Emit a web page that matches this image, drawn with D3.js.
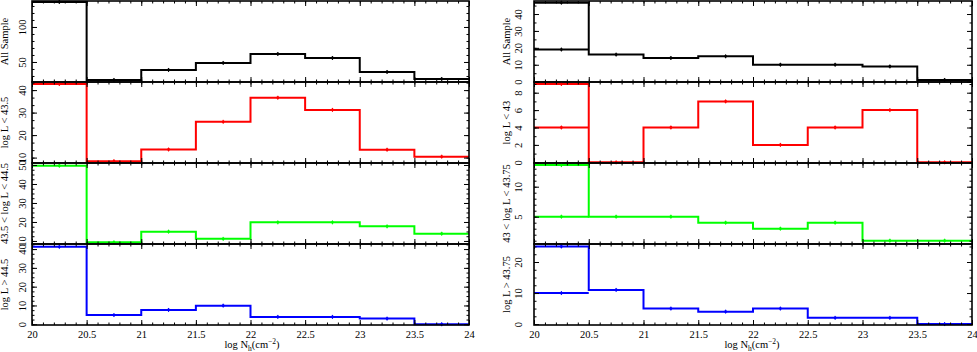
<!DOCTYPE html>
<html>
<head>
<meta charset="utf-8">
<script src="https://cdn.jsdelivr.net/npm/d3@7"></script>
<style>
  html, body { margin: 0; padding: 0; background: #fff; }
  svg { display: block; }
  text { font-family: "Liberation Serif", "Times New Roman", serif; }
</style>
</head>
<body>
<svg id="chart" width="977" height="352"></svg>
<script>
// ---------------- DATA ----------------
const binEdges = [20, 20.5, 21, 21.5, 22, 22.5, 23, 23.5, 24];
const xTickValues = [20, 20.5, 21, 21.5, 22, 22.5, 23, 23.5, 24];
const xTickLabels = ["20", "20.5", "21", "21.5", "22", "22.5", "23", "23.5", "24"];

// Left column (luminance split at 43.5 / 44.5)
const leftTitles = ["All Sample", "log L < 43.5", "43.5 < log L < 44.5", "log L > 44.5"];
const leftAll  = [135.7, 24.3, 38.6, 48.6, 61.4, 55.7, 35.7, 25.7];
const leftLow  = [42.7, 8.4, 13.6, 25.9, 36.6, 31.2, 13.5, 10.4];
const leftMid  = [49.6, 9.3, 14.9, 11.1, 19.8, 19.8, 17.7, 13.8];
const leftHigh = [41.2, 4.9, 7.6, 9.9, 3.9, 3.9, 3.0, 0];
const leftMajorTicks = [[50, 100], [10, 20, 30, 40], [10, 20, 30, 40, 50], [0, 10, 20, 30, 40]];

// Right column (luminance split at 43 / 43.75)
const rightTitles = ["All Sample", "log L < 43", "43 < log L < 43.75", "log L > 43.75"];
const rightAll  = [46.7, 16, 14, 15, 10, 10, 9, 1];
const rightLow  = [9, 0, 4, 7, 2, 4, 6, 0];
const rightMid  = [13.6, 5, 5, 4, 3, 4, 1, 1];
const rightHigh = [25, 11, 5, 4, 5, 2, 2, 0];
const rightFirstBinLower = [19, 4, 5, 10];
const rightMajorTicks = [[0, 10, 20, 30, 40], [0, 2, 4, 6, 8], [5, 10], [0, 10, 20]];

const seriesColors = ["#000000", "#ff0000", "#00ff00", "#0000ff"];

// ---------------- LAYOUT ----------------
const svg = d3.select("#chart");
const rowEdges = [1, 82, 163, 244, 325];

const columns = [
  {
    x0: 32, x1: 469, labelOff: 6, titleX: -24, xTitleCx: 252,
    titles: leftTitles,
    series: [leftAll, leftLow, leftMid, leftHigh],
    domains: [[21.4, 137.1], [7.6, 43.6], [8.4, 51.05], [-0.4, 42.7]],
    majors: leftMajorTicks,
    minorSteps: [10, 10 / 3, 2.5, 2.5],
    lower: null
  },
  {
    x0: 534, x1: 972, labelOff: 12, titleX: -24, xTitleCx: 752,
    titles: rightTitles,
    series: [rightAll, rightLow, rightMid, rightHigh],
    domains: [[-0.2, 47.7], [-0.08, 9.23], [0.45, 13.95], [-0.3, 25.8]],
    majors: rightMajorTicks,
    minorSteps: [5, 1, 1, 2.5],
    lower: rightFirstBinLower
  }
];

function rangeTicks(dom, step) {
  const out = [];
  const start = Math.ceil(dom[0] / step - 1e-9) * step;
  for (let v = start; v <= dom[1] + 1e-9; v += step) out.push(+v.toFixed(6));
  return out;
}

const xMinor = d3.range(20, 24.0001, 0.1).map(v => +v.toFixed(2));

columns.forEach(col => {
  const x = d3.scaleLinear().domain([20, 24]).range([col.x0, col.x1]);

  col.series.forEach((vals, p) => {
    const top = rowEdges[p], bottom = rowEdges[p + 1];
    const y = d3.scaleLinear().domain(col.domains[p]).range([bottom, top]);
    const g = svg.append("g");
    const color = seriesColors[p];

    // histogram step line
    const pts = binEdges.map((e, i) => [e, i < vals.length ? vals[i] : vals[vals.length - 1]]);
    const line = d3.line().x(d => x(d[0])).y(d => y(d[1])).curve(d3.curveStepAfter);
    g.append("path").attr("d", line(pts))
      .attr("fill", "none").attr("stroke", color).attr("stroke-width", 2);

    const centers = vals.map((v, i) => [(binEdges[i] + binEdges[i + 1]) / 2, v]);

    // extra lower first-bin segment (right column)
    if (col.lower) {
      const lv = col.lower[p];
      g.append("path")
        .attr("d", d3.line().x(d => x(d[0])).y(d => y(d[1]))([[binEdges[0], lv], [binEdges[1], lv]]))
        .attr("fill", "none").attr("stroke", color).attr("stroke-width", 2);
      centers.push([(binEdges[0] + binEdges[1]) / 2, lv]);
    }

    // point markers with tiny error bars
    const mk = g.append("g");
    mk.selectAll("line").data(centers).join("line")
      .attr("x1", d => x(d[0])).attr("x2", d => x(d[0]))
      .attr("y1", d => y(d[1]) - 2).attr("y2", d => y(d[1]) + 2)
      .attr("stroke", color).attr("stroke-width", 1);
    mk.selectAll("circle").data(centers).join("circle")
      .attr("cx", d => x(d[0])).attr("cy", d => y(d[1])).attr("r", 1.4)
      .attr("fill", color);

    // axes (inward ticks on all four sides)
    const styleAxis = sel => {
      sel.select(".domain").remove();
      sel.selectAll(".tick line").attr("stroke", "#000").attr("stroke-width", 1);
    };
    const yMinor = rangeTicks(col.domains[p], col.minorSteps[p]);

    const yl = svg.append("g").attr("transform", `translate(${col.x0},0)`)
      .call(d3.axisLeft(y).tickValues(col.majors[p]).tickSize(-5).tickFormat(d3.format("~g")))
      .call(styleAxis);
    yl.selectAll(".tick text")
      .attr("x", 0).attr("y", -col.labelOff).attr("dy", 0)
      .attr("text-anchor", "middle")
      .attr("transform", "rotate(-90)")
      .attr("font-size", 10.5)
      .attr("font-family", "Liberation Serif, serif")
      .attr("fill", "#000");
    svg.append("g").attr("transform", `translate(${col.x0},0)`)
      .call(d3.axisLeft(y).tickValues(yMinor).tickSize(-2.5).tickFormat(""))
      .call(styleAxis);
    svg.append("g").attr("transform", `translate(${col.x1},0)`)
      .call(d3.axisRight(y).tickValues(col.majors[p]).tickSize(-5).tickFormat(""))
      .call(styleAxis);
    svg.append("g").attr("transform", `translate(${col.x1},0)`)
      .call(d3.axisRight(y).tickValues(yMinor).tickSize(-2.5).tickFormat(""))
      .call(styleAxis);

    svg.append("g").attr("transform", `translate(0,${top})`)
      .call(d3.axisTop(x).tickValues(xTickValues).tickSize(-5).tickFormat(""))
      .call(styleAxis);
    svg.append("g").attr("transform", `translate(0,${top})`)
      .call(d3.axisTop(x).tickValues(xMinor).tickSize(-2.5).tickFormat(""))
      .call(styleAxis);
    const xb = svg.append("g").attr("transform", `translate(0,${bottom})`)
      .call(d3.axisBottom(x).tickValues(xTickValues).tickSize(-5)
        .tickFormat((d, i) => p === 3 ? xTickLabels[i] : ""))
      .call(styleAxis);
    xb.selectAll(".tick text")
      .attr("y", 12.5).attr("dy", 0)
      .attr("font-size", 10.5)
      .attr("font-family", "Liberation Serif, serif")
      .attr("fill", "#000");
    svg.append("g").attr("transform", `translate(0,${bottom})`)
      .call(d3.axisBottom(x).tickValues(xMinor).tickSize(-2.5).tickFormat(""))
      .call(styleAxis);

    // frame
    svg.append("rect")
      .attr("x", col.x0).attr("y", top)
      .attr("width", col.x1 - col.x0).attr("height", bottom - top)
      .attr("fill", "none").attr("stroke", "#000").attr("stroke-width", 1.6);

    // y title
    svg.append("text")
      .attr("transform", `translate(${col.x0 + col.titleX},${(top + bottom) / 2}) rotate(-90)`)
      .attr("text-anchor", "middle")
      .attr("font-size", 10.5)
      .text(col.titles[p]);
  });

  // x title: log N_h (cm^-2)
  const t = svg.append("text")
    .attr("x", col.xTitleCx).attr("y", 348)
    .attr("text-anchor", "middle")
    .attr("font-size", 10.5);
  t.append("tspan").text("log N");
  t.append("tspan").attr("font-size", 7.5).attr("dy", 2.5).text("h");
  t.append("tspan").attr("dy", -2.5).text("(cm");
  t.append("tspan").attr("font-size", 7.5).attr("dy", -4).text("\u22122");
  t.append("tspan").attr("dy", 4).text(")");
});
</script>
</body>
</html>
